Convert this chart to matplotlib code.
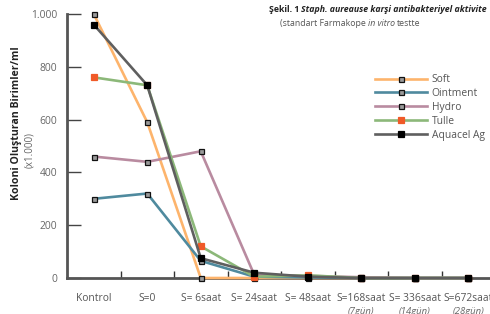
import matplotlib.pyplot as plt
from matplotlib.lines import Line2D

categories = ["Kontrol", "S=0", "S= 6saat", "S= 24saat", "S= 48saat",
              "S=168saat", "S= 336saat", "S=672saat"]
sub_labels = ["", "", "", "", "", "(7gün)", "(14gün)", "(28gün)"]

soft = [1000, 590, 0, 0, 0, 0, 0, 0]
ointment = [300, 320, 65, 5, 2, 0, 0, 0]
hydro = [460, 440, 480, 12, 8, 3, 0, 0]
tulle = [760, 730, 120, 5, 10, 0, 0, 0]
aquacel = [960, 730, 75, 20, 5, 0, 0, 0]

yticks = [0, 200, 400, 600, 800, 1000]
ytick_labels = ["0", "200", "400", "600", "800", "1.000"]

plt.rcParams['font.family'] = ['Open Sans', 'DejaVu Sans']

fig = plt.figure(figsize=(4.9, 3.14), dpi=100)
ax = fig.add_axes([67 / 490, 36 / 314, 428 / 490, 264 / 314])

x = list(range(len(categories)))
series = [
    ("Soft", soft, "#fdb46c", "#9a9a9a", "#111111", 3.6),
    ("Ointment", ointment, "#4f8a9e", "#9a9a9a", "#111111", 3.6),
    ("Hydro", hydro, "#b98ba0", "#9a9a9a", "#111111", 3.6),
    ("Tulle", tulle, "#8cb879", "#f05a28", "#f05a28", 5.0),
    ("Aquacel Ag", aquacel, "#5f5f5f", "#000000", "#000000", 4.3),
]
for name, vals, col, mfc, mec, ms in series:
    ax.plot(x, vals, color=col, lw=1.9, marker="s", ms=ms, mfc=mfc, mec=mec,
            mew=0.9, label=name, clip_on=False, zorder=3)

ax.set_xlim(-0.5, 7.5)
ax.set_ylim(0, 1000)
ax.set_yticks(yticks)
ax.set_yticklabels(ytick_labels)
ax.set_xticks([i + 0.5 for i in range(7)])
ax.set_xticklabels([])
ax.set_xticks(x, minor=True)
ax.set_xticklabels(categories, minor=True)
ax.tick_params(axis="x", which="major", direction="in", length=5, width=1, color="#333333")
ax.tick_params(axis="x", which="minor", length=0, pad=11, labelsize=7.4, labelcolor="#555555")
ax.tick_params(axis="y", direction="in", length=10, width=1, color="#444444",
               pad=7, labelsize=7.4, labelcolor="#666666")

for i, s in enumerate(sub_labels):
    if s:
        ax.text(i, -0.125, s, transform=ax.get_xaxis_transform(), ha="center",
                va="center", fontsize=6.8, style="italic", color="#666666")

for side in ["top", "right"]:
    ax.spines[side].set_visible(False)
ax.spines["left"].set_color("#555555")
ax.spines["left"].set_linewidth(2)
ax.spines["bottom"].set_color("#555555")
ax.spines["bottom"].set_linewidth(2)
ax.set_facecolor("none")

fig.text(17 / 490, 1 - 123 / 314, "Koloni Oluşturan Birimler/ml", rotation=90,
         ha="center", va="center", fontsize=7.6, fontweight="bold", color="#222222")
fig.text(30 / 490, 1 - 150 / 314, "(x1.000)", rotation=90, ha="center",
         va="center", fontsize=7, color="#666666")

# title, pieces chained from the right edge
t2 = fig.text(487 / 490, 1 - 9 / 314, "Staph. aureause karşi antibakteriyel aktivite",
              ha="right", va="center", fontsize=6.3, fontweight="bold",
              style="italic", color="#222222")
ax.annotate("Şekil. 1 ", xy=(0, 0.5), xycoords=t2, ha="right", va="center",
            fontsize=6.3, fontweight="bold", color="#222222", annotation_clip=False)
s1 = fig.text(280 / 490, 1 - 24 / 314, "(standart Farmakope ", ha="left",
              va="center", fontsize=6.3, color="#555555")
s2 = ax.annotate("in vitro ", xy=(1, 0.5), xycoords=s1, ha="left", va="center",
                 fontsize=6.3, style="italic", color="#555555", annotation_clip=False)
ax.annotate("testte", xy=(1, 0.5), xycoords=s2, ha="left", va="center",
            fontsize=6.3, color="#555555", annotation_clip=False)

handles = [Line2D([], [], color=c, lw=1.9, marker="s", ms=ms, mfc=mfc, mec=mec, mew=0.9)
           for _, _, c, mfc, mec, ms in series]
leg = fig.legend(handles, [s[0] for s in series], loc="upper left",
                 bbox_to_anchor=(370 / 490, 1 - 69 / 314), frameon=False,
                 fontsize=7.4, handlelength=5.0, handletextpad=0.5,
                 labelspacing=0.28, borderpad=0)
for t in leg.get_texts():
    t.set_color("#555555")

fig.savefig("out.png", dpi=100)
